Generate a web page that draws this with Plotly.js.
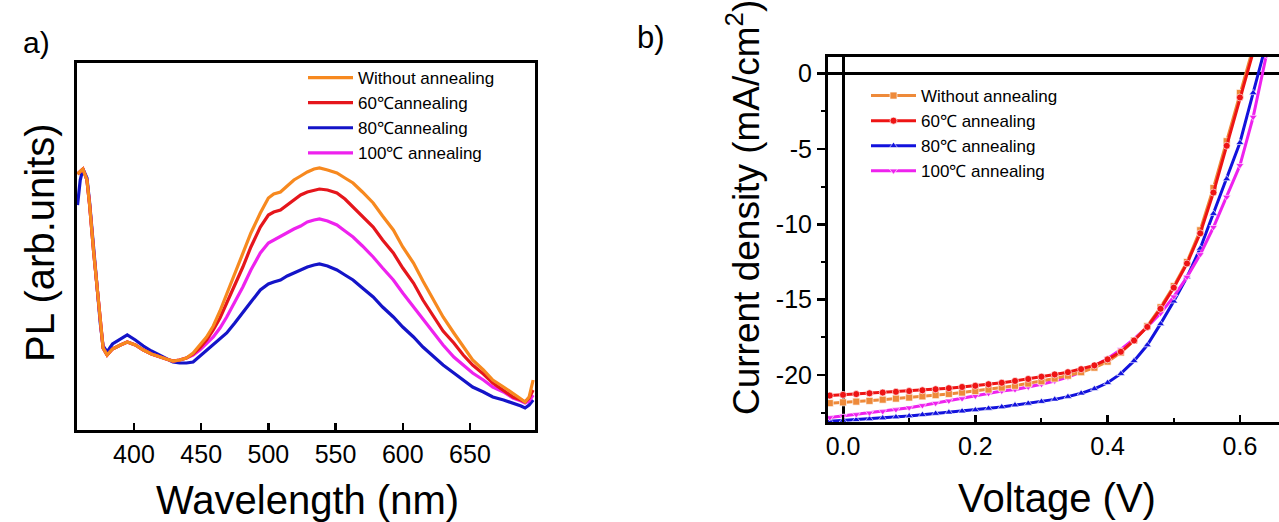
<!DOCTYPE html>
<html>
<head>
<meta charset="utf-8">
<script src="https://cdn.plot.ly/plotly-3.0.1.min.js"></script>
<style>html,body{margin:0;padding:0;background:#fff;}#chart{width:1279px;height:522px;}</style>
</head>
<body>
<div id="chart"></div>
<script>
// ---------- Panel a) PL spectra ----------
const wavelength = [358,360,362,365,367,370,373,375,377,380,384,390,395,401,407,413,419,424,429,434,439,444,449,454,459,464,469,475,481,487,494,500,504,509,514,519,524,529,534,538,544,551,557,563,570,578,585,593,600,608,615,623,630,638,645,652,660,667,675,682,688,691,694,697];
const plWithout = [256,259,261,250,225,178,138,104,82,75,81,85,88,85,80,76,73,71,69,70,72,77,85,93,104,119,136,157,177,197,217,232,236,238,244,250,254,258,261,262,260,257,252,247,238,227,214,200,183,167,149,130,113,97,83,70,60,50,43,37,31,28,33,50];
const pl60 = [256,259,261,250,225,178,138,104,82,75,81,85,88,85,80,76,73,71,69,70,72,76,82,90,100,112,127,145,163,183,203,215,218,220,225,230,235,238,240,241,240,237,231,223,214,203,190,177,162,147,130,113,99,87,75,65,56,47,40,33,30,28,32,40];
const pl80 = [225,250,261,252,227,180,140,106,84,78,86,91,95,90,84,79,75,72,68,67,67,68,74,80,85,91,97,107,117,128,140,146,148,150,154,157,160,163,165,166,164,160,155,150,142,133,123,113,103,93,83,73,65,57,50,43,38,33,30,27,24,22,25,30];
const pl100 = [256,259,261,250,225,178,138,104,82,75,81,85,88,85,80,76,73,71,69,70,72,75,80,86,93,102,113,128,143,160,177,187,190,194,198,201,204,208,210,211,209,205,199,193,184,173,162,150,137,123,110,97,85,73,65,57,50,43,38,32,29,27,29,35];
const plNames = ['Without annealing','60\u2103annealing','80\u2103annealing','100\u2103 annealing'];
const plTicks = [400,450,500,550,600,650];

// ---------- Panel b) J-V curves ----------
const voltage = [-0.02,0.00,0.02,0.04,0.06,0.08,0.10,0.12,0.14,0.16,0.18,0.20,0.22,0.24,0.26,0.28,0.30,0.32,0.34,0.36,0.38,0.40,0.42,0.44,0.46,0.48,0.50,0.52,0.54,0.56,0.58,0.60,0.62,0.64];
const jWithout = [-21.85,-21.8,-21.75,-21.7,-21.62,-21.55,-21.48,-21.4,-21.32,-21.24,-21.15,-21.05,-20.95,-20.82,-20.7,-20.55,-20.4,-20.22,-20.03,-19.8,-19.5,-19.1,-18.5,-17.7,-16.75,-15.5,-14.1,-12.5,-10.4,-7.6,-4.5,-1.3,1.8,4.8];
const j60 = [-21.35,-21.3,-21.25,-21.2,-21.15,-21.1,-21.05,-21.0,-20.93,-20.86,-20.78,-20.7,-20.6,-20.5,-20.38,-20.25,-20.1,-19.95,-19.8,-19.6,-19.35,-18.95,-18.45,-17.7,-16.8,-15.6,-14.2,-12.6,-10.6,-7.9,-4.8,-1.6,1.5,4.5];
const j80 = [-23.05,-23.0,-22.95,-22.9,-22.84,-22.77,-22.7,-22.62,-22.54,-22.46,-22.38,-22.3,-22.2,-22.1,-21.98,-21.87,-21.75,-21.6,-21.42,-21.2,-20.9,-20.5,-19.9,-19.05,-18.0,-16.6,-15.1,-13.5,-11.6,-9.3,-7.0,-4.6,-1.3,2.0];
const j100 = [-22.8,-22.7,-22.6,-22.5,-22.4,-22.28,-22.15,-22.0,-21.85,-21.7,-21.55,-21.38,-21.2,-21.05,-20.95,-20.78,-20.6,-20.38,-20.12,-19.8,-19.4,-18.9,-18.3,-17.6,-16.8,-15.9,-14.8,-13.5,-12.0,-10.2,-8.2,-6.1,-2.9,1.2];
const jvNames = ['Without annealing','60\u2103 annealing','80\u2103 annealing','100\u2103 annealing'];
const vTickVals = [0,0.2,0.4,0.6];
const vTickText = ['0.0','0.2','0.4','0.6'];
const jTickVals = [-20,-15,-10,-5,0];
const jTickText = ['-20','-15','-10','-5','0'];

const W = 1279, H = 522;
const FONT = 'Liberation Sans, Arial, Helvetica, sans-serif';
const px = v => v / W;
const py = v => 1 - v / H;

const plColors = ['#F7891F','#E5161C','#1414C8','#EE22EE'];
const jvColors = ['#EE8A3A','#EE1414','#1212DD','#EE22EE'];
const jvSymbols = ['square','circle','triangle-up','triangle-down'];
const plSeries = [plWithout, pl60, pl80, pl100];
const jvSeries = [jWithout, j60, j80, j100];

const traces = [];
[2,3,1,0].forEach(i => {
  traces.push({
    x: wavelength, y: plSeries[i], name: plNames[i], type: 'scatter', mode: 'lines',
    line: {color: plColors[i], width: 3.2}, xaxis: 'x', yaxis: 'y', legend: 'legend',
    legendrank: i + 1
  });
});
[2,3,0,1].forEach(i => {
  traces.push({
    x: voltage, y: jvSeries[i], name: jvNames[i], type: 'scatter', mode: 'lines+markers',
    line: {color: jvColors[i], width: 3},
    marker: {symbol: jvSymbols[i], size: 7, color: jvColors[i], line: {color: 'rgba(255,255,255,0.8)', width: 0.8}},
    xaxis: 'x2', yaxis: 'y2', legend: 'legend2', legendrank: i + 1
  });
});

const axLine = {showline: true, linecolor: '#000', linewidth: 3, showgrid: false, automargin: false};

function ann(text, x, y, size, angle) {
  return {text: text, x: px(x), y: py(y), xref: 'paper', yref: 'paper', xanchor: 'center', yanchor: 'middle',
          showarrow: false, textangle: angle || 0, font: {size: size, family: FONT, color: '#000'}};
}

const layout = {
  width: W, height: H,
  margin: {l: 0, r: 0, t: 0, b: 0},
  paper_bgcolor: '#fff', plot_bgcolor: '#fff',
  font: {family: FONT, color: '#000'},
  showlegend: true,
  xaxis: Object.assign({}, axLine, {
    domain: [px(77), px(535)], range: [357.6, 698.4], mirror: true, zeroline: false,
    tickvals: plTicks, ticks: 'inside', ticklen: 7, tickwidth: 2.5, tickcolor: '#000',
    tickfont: {size: 25, family: FONT}
  }),
  yaxis: Object.assign({}, axLine, {
    domain: [py(430), py(63)], range: [0, 367], mirror: true, zeroline: false,
    showticklabels: false, ticks: ''
  }),
  xaxis2: Object.assign({}, axLine, {
    anchor: 'y2', domain: [px(828), 1], range: [-0.0227, 0.6591], mirror: true,
    zeroline: true, zerolinecolor: '#000', zerolinewidth: 3,
    tickvals: vTickVals, ticktext: vTickText, ticks: 'inside', ticklen: 7, tickwidth: 2.5, tickcolor: '#000',
    minor: {tickvals: [0.1,0.3,0.5], ticks: 'inside', ticklen: 4, tickwidth: 2, tickcolor: '#000'},
    tickfont: {size: 25, family: FONT}
  }),
  yaxis2: Object.assign({}, axLine, {
    anchor: 'x2', domain: [py(422), py(56.7)], range: [-23.1, 1.1], mirror: false,
    zeroline: true, zerolinecolor: '#000', zerolinewidth: 3,
    tickvals: jTickVals, ticktext: jTickText, ticks: 'outside', ticklen: 8, tickwidth: 2.5, tickcolor: '#000',
    minor: {tickvals: [-22.5,-17.5,-12.5,-7.5,-2.5], ticks: 'outside', ticklen: 4, tickwidth: 2, tickcolor: '#000'},
    tickfont: {size: 25, family: FONT}
  }),
  legend: {
    x: px(303), y: py(60), xanchor: 'left', yanchor: 'top', itemwidth: 45,
    bgcolor: 'rgba(0,0,0,0)', font: {size: 17, family: FONT}, tracegroupgap: 0, traceorder: 'normal'
  },
  legend2: {
    x: px(866), y: py(78), xanchor: 'left', yanchor: 'top', itemwidth: 45,
    bgcolor: 'rgba(0,0,0,0)', font: {size: 17, family: FONT}, tracegroupgap: 0, traceorder: 'normal'
  },
  annotations: [
    ann('a)', 36, 42, 30),
    ann('b)', 651, 38, 31),
    ann('PL (arb.units)', 40, 243, 40, -90),
    ann('Wavelength (nm)', 307, 500, 40),
    ann('Current density (mA/cm<sup>2</sup>)', 743, 208, 37, -90),
    ann('Voltage (V)', 1057, 498, 40)
  ]
};

Plotly.newPlot('chart', traces, layout, {staticPlot: true, displayModeBar: false});
</script>
</body>
</html>
